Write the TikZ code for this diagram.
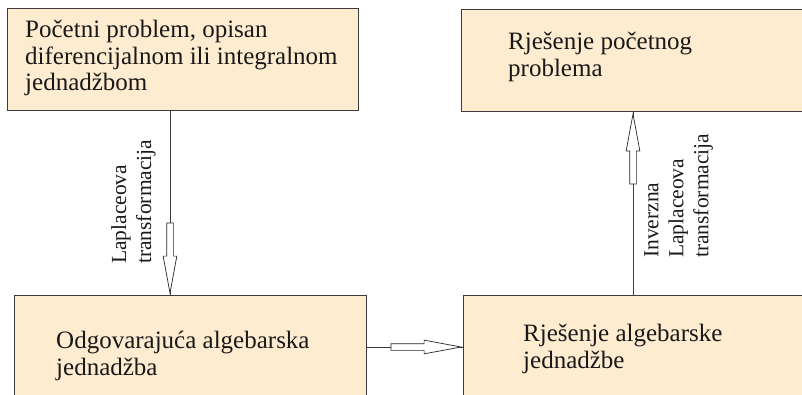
\documentclass[tikz,border=0pt]{standalone}
\usepackage{fontspec}
\setmainfont{Liberation Serif}
\usetikzlibrary{shapes.arrows}
\definecolor{boxfill}{RGB}{254,236,208}
\definecolor{boxline}{RGB}{60,60,60}
\begin{document}
\begin{tikzpicture}[x=1pt,y=-1pt,
  box/.style={draw=boxline, fill=boxfill, line width=1.1pt, rectangle, inner sep=0pt, anchor=north west},
  boxtext/.style={anchor=north west, align=left, inner sep=0pt, text=black!90, font=\fontsize{25}{26.5}\selectfont},
  lbl/.style={rotate=90, anchor=north west, align=left, inner sep=0pt, text=black!90, font=\fontsize{21.5}{25}\selectfont},
  conn/.style={draw=boxline, line width=0.8pt},
  hollow/.style={single arrow, draw=black!85, fill=white, line width=0.7pt, inner xsep=0pt, inner ysep=3pt,
    single arrow head extend=3.5pt, single arrow tip angle=21, minimum height=70pt, anchor=tip}]
\useasboundingbox (0,0) rectangle (802,395);
\clip (0,0) rectangle (802,395);
\node[box, minimum width=351pt, minimum height=102pt] (b1) at (7,8) {};
\node[box, minimum width=360pt, minimum height=102pt] (b2) at (461,9) {};
\node[box, minimum width=352pt, minimum height=120pt] (b3) at (14,295) {};
\node[box, minimum width=360pt, minimum height=120pt] (b4) at (463,295) {};
\node[boxtext] (t1) at (25,20) {Početni problem, opisan\\diferencijalnom ili integralnom\\jednadžbom};
\node[boxtext] (t2) at (508,32) {Rješenje početnog\\problema};
\node[boxtext] (t3) at (56,331) {Odgovarajuća algebarska\\jednadžba};
\node[boxtext] (t4) at (523,324) {Rješenje algebarske\\jednadžbe};
% connectors
\path (b3.north west) ++(156,0) coordinate (p1);
\path (b2.south west) ++(172,0) coordinate (p2);
\path (b4.north west) ++(0,52) coordinate (p3);
\draw[conn] (p1 |- b1.south) -- (p1);
\node[hollow, rotate=-90] (a1) at (p1) {};
\draw[conn] (p2 |- b4.north) -- (p2);
\node[hollow, rotate=90] (a2) at (p2) {};
\draw[conn] (p3 -| b3.east) -- (p3);
\node[hollow] (a3) at (p3) {};
% labels
\node[lbl] (l1) at (111,264) {Laplaceova\\transformacija};
\node[lbl] (l2) at (644,258) {Inverzna\\Laplaceova\\transformacija};
\end{tikzpicture}
\end{document}
